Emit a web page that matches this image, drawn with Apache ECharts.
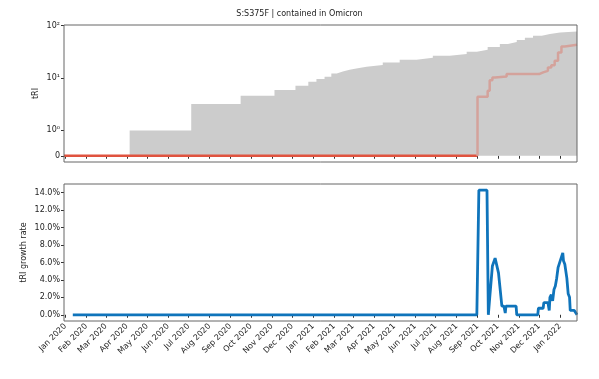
<!DOCTYPE html>
<html>
<head>
<meta charset="utf-8">
<title>S:S375F | contained in Omicron</title>
<script src="https://cdn.jsdelivr.net/npm/echarts@6/dist/echarts.min.js"></script>
<style>
  html, body { margin: 0; padding: 0; background: #fff; }
  #chart { width: 599px; height: 379px; }
</style>
</head>
<body>
<div id="chart"></div>
<script>
// shared time range and month ticks
const rangeStart = "2019-12-30";
const rangeEnd = "2022-01-26";
const monthTicks = [
  "2020-01-01", "2020-02-01", "2020-03-01", "2020-04-01", "2020-05-01", "2020-06-01",
  "2020-07-01", "2020-08-01", "2020-09-01", "2020-10-01", "2020-11-01", "2020-12-01",
  "2021-01-01", "2021-02-01", "2021-03-01", "2021-04-01", "2021-05-01", "2021-06-01",
  "2021-07-01", "2021-08-01", "2021-09-01", "2021-10-01", "2021-11-01", "2021-12-01",
  "2022-01-01"
];
const monthNames = ["Jan", "Feb", "Mar", "Apr", "May", "Jun", "Jul", "Aug", "Sep", "Oct", "Nov", "Dec"];

// top panel: tRI (gray = all, red = contained in Omicron)
const triTicks = [0, 1, 10, 100];
const triTickLabels = ["0", "10⁰", "10¹", "10²"];
const grayDates = [
  "2019-12-30", "2020-04-05", "2020-07-05", "2020-09-16", "2020-11-05", "2020-12-06",
  "2020-12-25", "2021-01-06", "2021-01-18", "2021-01-28", "2021-02-05", "2021-02-14",
  "2021-02-24", "2021-03-06", "2021-03-21", "2021-04-14", "2021-05-09", "2021-06-03",
  "2021-06-27", "2021-07-22", "2021-08-16", "2021-08-31", "2021-09-16", "2021-10-04",
  "2021-10-16", "2021-10-29", "2021-11-10", "2021-11-22", "2021-12-05", "2021-12-17",
  "2022-01-01", "2022-01-26"
];
const grayValues = [
  0, 1, 3.2, 4.6, 5.9, 7.1,
  8.5, 9.6, 10.6, 12.2, 13.3, 14.4,
  15.2, 16.4, 17.7, 19.8, 22.3, 24.3,
  26.6, 28.6, 31.7, 34.6, 39.0, 44.5,
  48.5, 53.0, 58.5, 64.0, 69.5, 74.0,
  77.3, 78.0
];
const redDates = [
  "2019-12-30", "2021-09-01", "2021-09-16", "2021-09-19", "2021-09-23", "2021-09-27",
  "2021-10-14", "2021-12-01", "2021-12-07", "2021-12-14", "2021-12-19", "2021-12-24",
  "2021-12-29", "2022-01-03", "2022-01-08", "2022-01-26"
];
const redValues = [
  0, 4.4, 5.7, 9.1, 10.2, 10.7,
  11.9, 12.8, 13.7, 15.9, 17.6, 21.3,
  30.7, 40.0, 43.0, 43.0
];

// bottom panel: tRI growth rate (%)
const rateTicks = [0, 2, 4, 6, 8, 10, 12, 14];
const rateDates = [
  "2020-01-12", "2021-08-31", "2021-09-03", "2021-09-15", "2021-09-17", "2021-09-19",
  "2021-09-23", "2021-09-27", "2021-09-29", "2021-10-02", "2021-10-04", "2021-10-07",
  "2021-10-10", "2021-10-12", "2021-10-13", "2021-10-28", "2021-10-29", "2021-11-29",
  "2021-11-30", "2021-12-07", "2021-12-08", "2021-12-14", "2021-12-16", "2021-12-17",
  "2021-12-19", "2021-12-21", "2021-12-23", "2021-12-25", "2021-12-27", "2021-12-29",
  "2021-12-31", "2022-01-02", "2022-01-05", "2022-01-06", "2022-01-08", "2022-01-11",
  "2022-01-13", "2022-01-15", "2022-01-16", "2022-01-22", "2022-01-24", "2022-01-26"
];
const rateValues = [
  0, 0, 14.29, 14.29, 0, 1.9,
  5.6, 6.5, 6.5, 4.8, 4.6, 1.0,
  1.0, 0.2, 1.0, 1.0, 0, 0,
  0.75, 0.75, 1.4, 1.4, 0.5, 2.0,
  2.3, 1.6, 2.9, 3.3, 4.2, 5.4,
  5.9, 5.9, 7.1, 6.2, 5.8, 4.2,
  2.4, 2.0, 0.5, 0.5, 0.4, 0
];

const ts = (d) => {
  const [y, m, day] = d.split("-").map(Number);
  return Date.UTC(y, m - 1, day);
};

// symlog-like scale: linear below 1, log10 above
const LIN = 0.484;
const symlog = (v) => (v <= 1 ? v * LIN : LIN + Math.log10(v));

const tickTs = monthTicks.map(ts);
const fmtMonth = (v) => {
  const d = new Date(v);
  return monthNames[d.getUTCMonth()] + " " + d.getUTCFullYear();
};

const grayData = grayDates.map((d, i) => [ts(d), symlog(grayValues[i])]);
const firstUp = redValues.findIndex((v) => v > 0);
const redZero = [[ts(redDates[0]), 0], [ts(redDates[firstUp]), 0]];
const redUp = [[ts(redDates[firstUp]), 0]].concat(
  redDates.slice(firstUp).map((d, i) => [ts(d), symlog(redValues[firstUp + i])])
);
const rateData = rateDates.map((d, i) => [ts(d), rateValues[i]]);

const font = "DejaVu Sans";
const txt = "#222";

const xAxisCfg = (gridIndex, showLabels) => ({
  type: "value",
  gridIndex,
  min: ts(rangeStart),
  max: ts(rangeEnd),
  axisLine: { show: false },
  splitLine: { show: false },
  axisTick: { show: true, length: 3, customValues: tickTs, lineStyle: { color: "#333" } },
  axisLabel: {
    show: showLabels,
    customValues: tickTs,
    rotate: 45,
    fontSize: 8,
    fontFamily: font,
    color: txt,
    margin: 4,
    formatter: fmtMonth
  }
});

const chart = echarts.init(document.getElementById("chart"));
chart.setOption({
  animation: false,
  title: {
    text: "S:S375F | contained in Omicron",
    left: "center",
    top: 5,
    textStyle: { fontSize: 8, fontWeight: "normal", color: txt, fontFamily: font }
  },
  grid: [
    { left: 64, top: 25, width: 513, height: 137, show: true, borderColor: "#666", borderWidth: 1, z: 10 },
    { left: 64, top: 184, width: 513, height: 137, show: true, borderColor: "#666", borderWidth: 1, z: 10 }
  ],
  xAxis: [xAxisCfg(0, false), xAxisCfg(1, true)],
  yAxis: [
    {
      type: "value",
      gridIndex: 0,
      min: -0.119,
      max: 2.496,
      name: "tRI",
      nameLocation: "middle",
      nameGap: 24,
      nameMoveOverlap: false,
      nameTextStyle: { fontSize: 8, fontFamily: font, color: txt },
      axisLine: { show: false },
      splitLine: { show: false },
      axisTick: { show: true, length: 3, customValues: triTicks.map(symlog), lineStyle: { color: "#333" } },
      axisLabel: {
        customValues: triTicks.map(symlog),
        fontSize: 8,
        fontFamily: font,
        color: txt,
        margin: 4,
        formatter: (v) => triTickLabels[triTicks.map(symlog).findIndex((t) => Math.abs(t - v) < 1e-6)]
      }
    },
    {
      type: "value",
      gridIndex: 1,
      min: -0.714,
      max: 15.0,
      name: "tRI growth rate",
      nameLocation: "middle",
      nameGap: 36,
      nameMoveOverlap: false,
      nameTextStyle: { fontSize: 8, fontFamily: font, color: txt },
      axisLine: { show: false },
      splitLine: { show: false },
      axisTick: { show: true, length: 3, customValues: rateTicks, lineStyle: { color: "#333" } },
      axisLabel: {
        customValues: rateTicks,
        fontSize: 8,
        fontFamily: font,
        color: txt,
        margin: 4,
        formatter: (v) => v.toFixed(1) + "%"
      }
    }
  ],
  series: [
    {
      type: "line",
      xAxisIndex: 0,
      yAxisIndex: 0,
      step: "end",
      showSymbol: false,
      data: grayData,
      lineStyle: { width: 0 },
      itemStyle: { color: "#cccccc" },
      areaStyle: { color: "#cccccc", opacity: 1 },
      z: 1
    },
    {
      type: "line",
      xAxisIndex: 0,
      yAxisIndex: 0,
      showSymbol: false,
      data: redZero,
      lineStyle: { width: 2.5, color: "#e0533f" },
      z: 3
    },
    {
      type: "line",
      xAxisIndex: 0,
      yAxisIndex: 0,
      step: "end",
      showSymbol: false,
      data: redUp,
      lineStyle: { width: 2.5, color: "#d4a29b" },
      z: 3
    },
    {
      type: "line",
      xAxisIndex: 1,
      yAxisIndex: 1,
      showSymbol: false,
      data: rateData,
      lineStyle: { width: 2.8, color: "#0f74bb" },
      z: 3
    }
  ]
});
</script>
</body>
</html>
